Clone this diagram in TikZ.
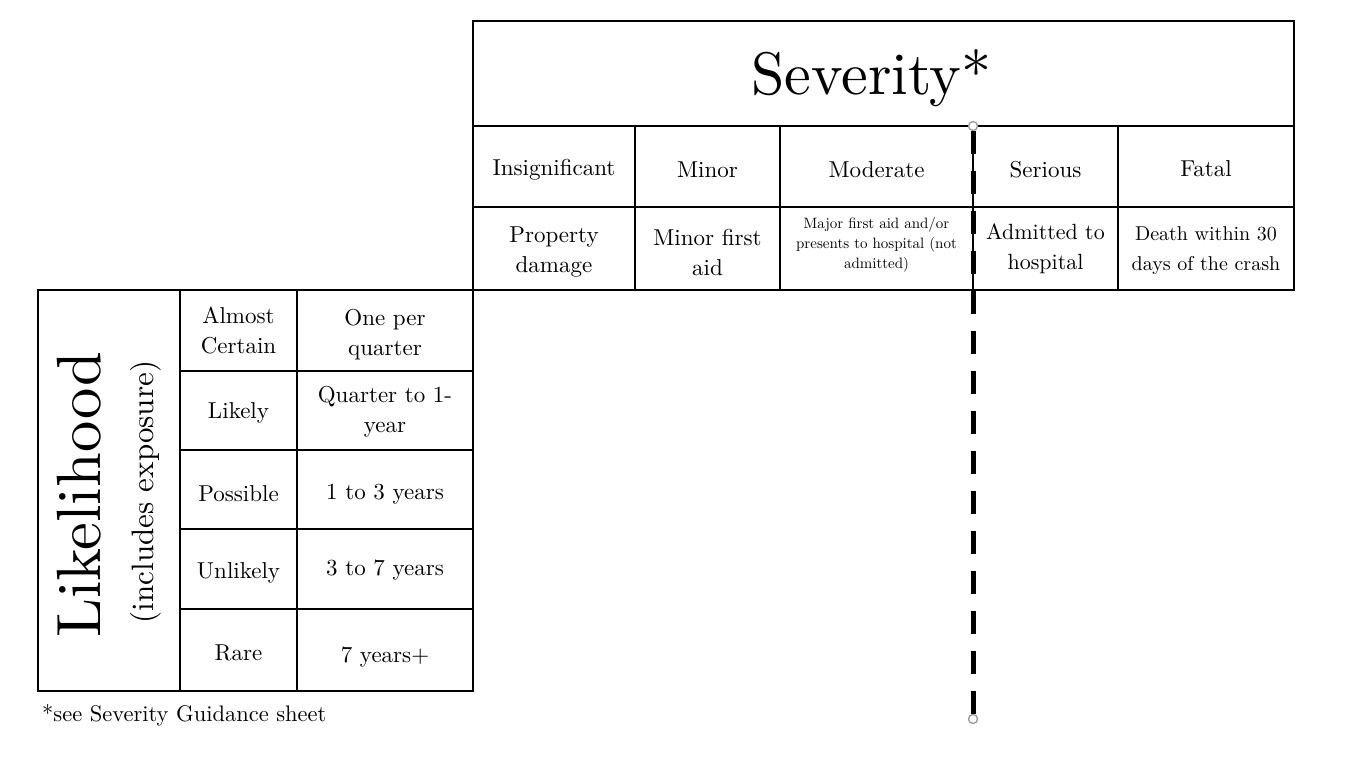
\documentclass[tikz,border=0pt]{standalone}
\usepackage{fontspec}
\setmainfont{lmroman10-regular.otf}
\begin{document}
\begin{tikzpicture}[x=1pt,y=-1pt,
  cell/.style={draw, line width=2pt, inner sep=0pt, outer sep=0pt, anchor=north west},
  txt/.style={inner sep=0pt, align=center, font=\fontsize{23}{30}\selectfont},
  endmark/.style={circle, draw=gray!80, fill=white, line width=1.3pt, minimum size=9pt, inner sep=0pt},
  cutline/.style={line width=5pt, dash pattern=on 23pt off 17pt}]
\useasboundingbox (0,0) rectangle (1365,765);
\fill[white] (0,0) rectangle (1365,765);
% severity header
\node[cell, minimum width=821pt, minimum height=105pt] (sev) at (473,21) {};
\node[txt, font=\fontsize{60}{66}\selectfont, xshift=-12pt, yshift=-5pt] (sev-t) at (sev.center) {Severity*};
% severity levels
\node[cell, minimum width=162pt, minimum height=81pt] (ins) at (473,126) {};
\node[cell, minimum width=145pt, minimum height=81pt] (mnr) at (635,126) {};
\node[cell, minimum width=193pt, minimum height=81pt] (mod) at (780,126) {};
\node[cell, minimum width=145pt, minimum height=81pt] (ser) at (973,126) {};
\node[cell, minimum width=176pt, minimum height=81pt] (fat) at (1118,126) {};
\node[txt, yshift=-3pt] (ins-t) at (ins.center) {Insignificant};
\node[txt, yshift=-3pt] (mnr-t) at (mnr.center) {Minor};
\node[txt, yshift=-3pt] (mod-t) at (mod.center) {Moderate};
\node[txt, yshift=-3pt] (ser-t) at (ser.center) {Serious};
\node[txt, yshift=-2pt] (fat-t) at (fat.center) {Fatal};
% severity descriptions
\node[cell, minimum width=162pt, minimum height=83pt] (insd) at (473,207) {};
\node[cell, minimum width=145pt, minimum height=83pt] (mnrd) at (635,207) {};
\node[cell, minimum width=193pt, minimum height=83pt] (modd) at (780,207) {};
\node[cell, minimum width=145pt, minimum height=83pt] (serd) at (973,207) {};
\node[cell, minimum width=176pt, minimum height=83pt] (fatd) at (1118,207) {};
\node[txt, yshift=-4pt] (insd-t) at (insd.center) {Property\\damage};
\node[txt, yshift=-4pt] (mnrd-t) at (mnrd.center) {Minor first\\aid};
\node[txt, yshift=4pt, font=\fontsize{15}{20}\selectfont] (modd-t) at (modd.center) {Major first aid and/or\\presents to hospital (not\\admitted)};
\node[txt, font=\fontsize{22}{30}\selectfont] (serd-t) at (serd.center) {Admitted to\\hospital};
\node[txt, yshift=-2pt, font=\fontsize{20}{30}\selectfont] (fatd-t) at (fatd.center) {Death within 30\\days of the crash};
% likelihood
\node[cell, minimum width=142pt, minimum height=401pt] (lik) at (38,290) {};
\node[rotate=90, inner sep=0pt, font=\fontsize{62.5}{62}\selectfont] (likt) at (79,495) {Likelihood};
\node[rotate=90, inner sep=0pt, font=\fontsize{31}{30}\selectfont] (likx) at (146,492) {(includes exposure)};
\node[cell, minimum width=117pt, minimum height=81pt] (l1) at (180,290) {};
\node[cell, minimum width=176pt, minimum height=81pt] (f1) at (297,290) {};
\node[cell, minimum width=117pt, minimum height=79pt] (l2) at (180,371) {};
\node[cell, minimum width=176pt, minimum height=79pt] (f2) at (297,371) {};
\node[cell, minimum width=117pt, minimum height=79pt] (l3) at (180,450) {};
\node[cell, minimum width=176pt, minimum height=79pt] (f3) at (297,450) {};
\node[cell, minimum width=117pt, minimum height=80pt] (l4) at (180,529) {};
\node[cell, minimum width=176pt, minimum height=80pt] (f4) at (297,529) {};
\node[cell, minimum width=117pt, minimum height=82pt] (l5) at (180,609) {};
\node[cell, minimum width=176pt, minimum height=82pt] (f5) at (297,609) {};
\node[txt] (l1-t) at (l1.center) {Almost\\Certain};
\node[txt, yshift=-4pt] (f1-t) at (f1.center) {One per\\quarter};
\node[txt, yshift=-2pt] (l2-t) at (l2.center) {Likely};
\node[txt, yshift=-1pt] (f2-t) at (f2.center) {Quarter to 1-\\year};
\node[txt, yshift=-4pt] (l3-t) at (l3.center) {Possible};
\node[txt, yshift=-5pt] (f3-t) at (f3.center) {1 to 3 years};
\node[txt, yshift=-4pt] (l4-t) at (l4.center) {Unlikely};
\node[txt, yshift=-1pt] (f4-t) at (f4.center) {3 to 7 years};
\node[txt, yshift=-3pt] (l5-t) at (l5.center) {Rare};
\node[txt, yshift=-7pt] (f5-t) at (f5.center) {7 years+};
% footnote
\node[anchor=base west, inner sep=0pt, font=\fontsize{22.5}{27}\selectfont] (note) at (42,721) {*see Severity Guidance sheet};
% dashed cut line
\node[endmark] (ctop) at (973,126) {};
\node[endmark] (cbot) at (973,719) {};
\draw[cutline] (ctop.south) -- (cbot.north);
\end{tikzpicture}
\end{document}
